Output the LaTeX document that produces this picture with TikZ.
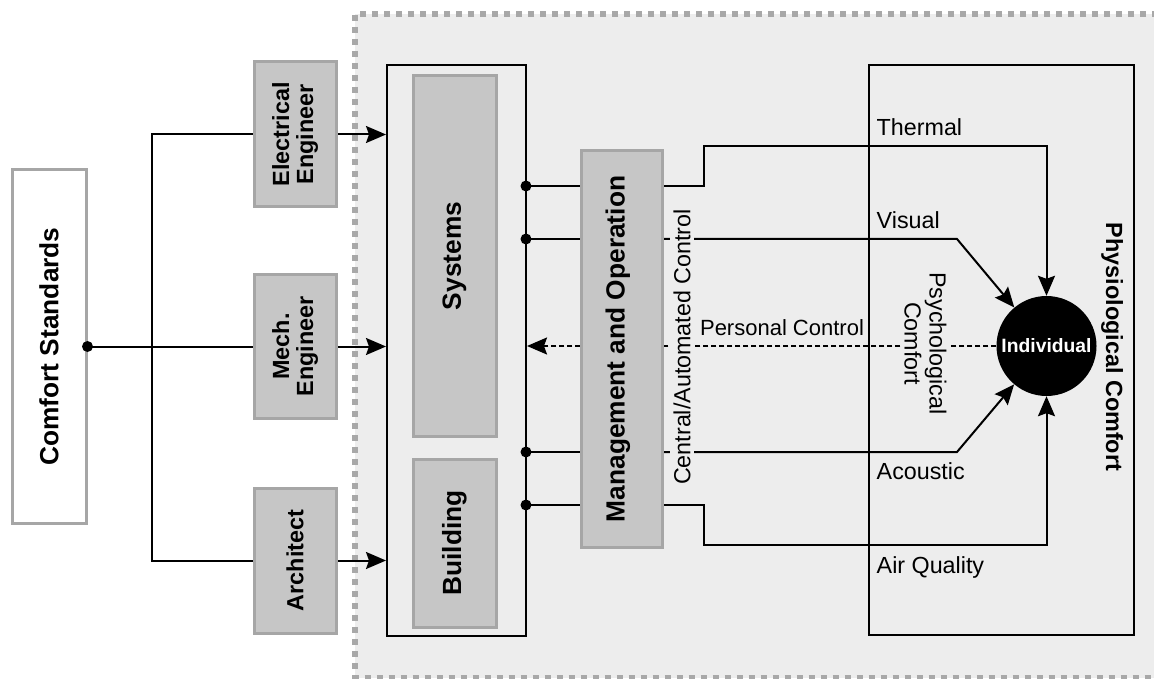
\documentclass[tikz,border=0pt]{standalone}
\usepackage{fontspec}
\setmainfont{Liberation Sans}
\usetikzlibrary{arrows.meta}
\definecolor{bgg}{HTML}{EDEDED}
\definecolor{boxg}{HTML}{C6C6C6}
\definecolor{boxb}{HTML}{A6A6A6}
\definecolor{regb}{HTML}{A8A8A8}
\pgfdeclarelayer{bglayer}
\pgfdeclarelayer{linelayer}
\pgfsetlayers{bglayer,linelayer,main}
\tikzset{
  gbox/.style={draw=boxb, fill=boxg, line width=3pt, inner sep=0pt},
  wbox/.style={draw=boxb, fill=white, line width=3pt, inner sep=0pt},
  kbox/.style={draw=black, line width=2pt, inner sep=0pt},
  bigb/.style={font=\fontsize{26.3}{28}\selectfont\bfseries, inner sep=0pt},
  midb/.style={font=\fontsize{23.4}{24}\selectfont\bfseries, inner sep=0pt, align=center},
  reg/.style={font=\fontsize{23.3}{25}\selectfont, inner sep=0pt},
  conn/.style={line width=2pt},
  arr/.style={line width=2pt, -{Stealth[length=20pt,width=17pt,inset=3pt]}},
}
\begin{document}
\begin{tikzpicture}[x=1pt,y=-1pt]
\useasboundingbox (0,0) rectangle (1154,679);
\begin{pgfonlayer}{bglayer}
\fill[bgg] (355,14) rectangle (1170,677.5);
\draw[regb, line width=6pt, dash pattern=on 6pt off 6pt] (1170,14) -- (355,14) -- (355,677.5) -- (1170,677.5);
\end{pgfonlayer}

% nodes
\node[wbox, minimum width=74, minimum height=353] (cs) at (49,346.5) {};
\node[bigb, rotate=90] at (cs) {Comfort Standards};
\node[gbox, minimum width=82, minimum height=145] (ee) at (295,134.5) {};
\node[midb, rotate=90] at (ee) {Electrical\\Engineer};
\node[gbox, minimum width=82, minimum height=144] (me) at (295,346.5) {};
\node[midb, rotate=90] at (me) {Mech.\\Engineer};
\node[gbox, minimum width=82, minimum height=145] (ar) at (295,560.5) {};
\node[midb, rotate=90] at (ar) {Architect};
\node[kbox, minimum width=139, minimum height=571] (sb) at (456.5,350.5) {};
\node[gbox, minimum width=83, minimum height=360] (sys) at (454.5,256) {};
\node[bigb, rotate=90] at (sys) {Systems};
\node[gbox, minimum width=83, minimum height=168] (bld) at (454.5,543) {};
\node[bigb, rotate=90] at (bld) {Building};
\node[gbox, minimum width=81, minimum height=396] (mo) at (621.5,349) {};
\node[bigb, rotate=90] at (618,349) {Management and Operation};
\node[kbox, minimum width=265, minimum height=570] (pc) at (1001.5,350) {};
\node[midb, rotate=-90] at (1112,347) {Physiological Comfort};
\node[circle, fill=black, minimum size=100pt, inner sep=0pt] (ind) at (1046.5,346) {};
\node[font=\fontsize{19.3}{20}\selectfont\bfseries, text=white, inner sep=0pt] at (ind) {Individual};

\node[reg, rotate=90, fill=bgg, inner sep=3pt] (cac) at (682,347) {Central/Automated Control};
\node[reg, rotate=-90, fill=bgg, inner sep=2pt, align=center] (psy) at (925.5,343.5) {Psychological\\Comfort};

\node[reg, anchor=base west] (lt) at (876.5,136) {Thermal};
\node[reg, anchor=base west] (lv) at (876.5,229) {Visual};
\node[reg, anchor=base west] (la) at (876.5,479) {Acoustic};
\node[reg, anchor=base west] (lq) at (876.5,573) {Air Quality};
\node[font=\fontsize{22}{24}\selectfont, anchor=base, inner sep=0pt] (lp) at (782,335) {Personal Control};

\fill (cs.east) circle (5.5pt);

% connectors
\begin{pgfonlayer}{linelayer}
\coordinate (vtop) at (152,134.5);
\coordinate (vbot) at (152,560.5);
\coordinate (d1) at (526,186);
\coordinate (d2) at (526,239);
\coordinate (d3) at (526,452);
\coordinate (d4) at (526,505);
\coordinate (t1) at (704,146);
\coordinate (t4) at (704,545);
\coordinate (b2) at (957,239);
\coordinate (b3) at (957,452);
\draw[conn] (ee.west) -- (vtop) -- (vbot) -- (ar.west);
\draw[conn] (cs.east) -- (me.west);
\draw[arr] (ee.east) -- (ee.east -| sb.west);
\draw[arr] (me.east) -- (me.east -| sb.west);
\draw[arr] (ar.east) -- (ar.east -| sb.west);
\foreach \d in {d1,d2,d3,d4} {
  \draw[conn] (\d) -- (\d -| mo.west);
  \fill (\d) circle (5.5pt);
}
\draw[arr] (d1 -| mo.east) -| (t1) -| (ind.north);
\draw[arr] (d2 -| mo.east) -- (b2) -- (ind);
\draw[arr] (d3 -| mo.east) -- (b3) -- (ind);
\draw[arr] (d4 -| mo.east) -| (t4) -| (ind.south);
\draw[arr, dash pattern=on 5pt off 3pt] (ind.west) -- (ind.west -| sb.east);
\end{pgfonlayer}
\end{tikzpicture}
\end{document}
